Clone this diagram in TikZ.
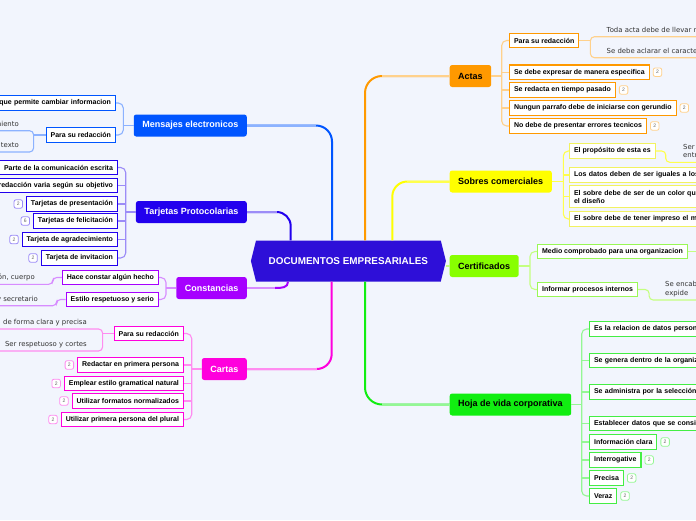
\documentclass[tikz,border=0pt]{standalone}
\usepackage{fontspec}
\setmainfont{Liberation Sans}
\newfontfamily\notefont{DejaVu Sans}
\usetikzlibrary{calc,positioning,shapes.symbols}

\definecolor{bgcol}{HTML}{F2F5FD}
\definecolor{doccol}{HTML}{2E0FD8}
\definecolor{mencol}{HTML}{0055FF}
\definecolor{tarcol}{HTML}{2200EE}
\definecolor{concol}{HTML}{A600FF}
\definecolor{carcol}{HTML}{FF00DD}
\definecolor{actcol}{HTML}{FF9900}
\definecolor{sobcol}{HTML}{FFFF00}
\definecolor{sobbox}{HTML}{F2F260}
\definecolor{cercol}{HTML}{88FF00}
\definecolor{cerbox}{HTML}{99F855}
\definecolor{hojcol}{HTML}{11EE11}
\definecolor{hojbox}{HTML}{44EE44}

\colorlet{menl}{mencol!45!white}
\colorlet{tarl}{tarcol!45!white}
\colorlet{conl}{concol!45!white}
\colorlet{carl}{carcol!45!white}
\colorlet{actl}{actcol!45!white}
\colorlet{sobl}{sobcol!70!white}
\colorlet{cerl}{cercol!50!white}
\colorlet{hojl}{hojcol!45!white}

\tikzset{
  topic/.style={rounded corners=2.5, minimum height=22, inner xsep=8.5,
    font=\fontsize{9}{10}\selectfont\bfseries},
  sub/.style={draw, line width=1.1, fill=white, minimum height=14.5,
    inner xsep=4.5, inner ysep=1, font=\fontsize{7}{8}\selectfont\bfseries},
  widr/.style={text width=170, align=left},
  widl/.style={text width=170, align=right},
  badge/.style={draw, rounded corners=2, line width=0.8, fill=white,
    minimum size=8.5, inner sep=0, font=\fontsize{5}{5}\selectfont, text=black!60},
  note/.style={font=\notefont\fontsize{6.9}{8.4}\selectfont, text=black!80,
    inner xsep=0, inner ysep=3, text depth=1.5pt},
  link/.style={line width=1.1},
  trunk/.style={line width=2},
}

\begin{document}
\begin{tikzpicture}[x=1pt,y=-1pt]
  % Page
  \useasboundingbox (0,0) rectangle (696,520);
  \fill[bgcol] (0,0) rectangle (696,520);
  \clip (0,0) rectangle (696,520);
  \coordinate (ledge) at (-10,0);
  \coordinate (redge) at (710,0);

  % Central Topic
  \node[signal, signal to=west and east, signal pointer angle=152, fill=doccol,
    text=white, minimum width=195, minimum height=41, inner sep=0,
    font=\fontsize{9.9}{11}\selectfont\bfseries] (doc) at (348.4,261) {DOCUMENTOS EMPRESARIALES};

  % Main Topics
  \node[topic, fill=actcol, anchor=west] (actas) at (449.5,76) {Actas};
  \node[topic, fill=sobcol, anchor=west] (sobres) at (449.5,181.5) {Sobres comerciales};
  \node[topic, fill=cercol, anchor=west] (certif) at (449.5,266) {Certificados};
  \node[topic, fill=hojcol, anchor=west] (hoja) at (449.5,404.5) {Hoja de vida corporativa};
  \node[topic, fill=mencol, text=white, anchor=east] (mensajes) at (247,125.5) {Mensajes electronicos};
  \node[topic, fill=tarcol, text=white, anchor=east] (tarjetas) at (247,212) {Tarjetas Protocolarias};
  \node[topic, fill=concol, text=white, anchor=east] (constan) at (247,288) {Constancias};
  \node[topic, fill=carcol, text=white, anchor=east] (cartas) at (247,369) {Cartas};

  % Trunks
  \coordinate (tmen) at ($(doc.north)+(-16.4,0)$);
  \coordinate (ttar) at ($(doc.north)+(-57.7,0)$);
  \coordinate (tact) at ($(doc.north)+(16.6,0)$);
  \coordinate (tsob) at ($(doc.north)+(43.9,0)$);
  \coordinate (tcar) at ($(doc.south)+(-16.7,0)$);
  \coordinate (thoj) at ($(doc.south)+(16.6,0)$);
  \coordinate (tcon) at ($(doc.south)+(-60.4,0)$);
  \coordinate (concor) at ($(constan.east)+(28,0)$);
  \draw[trunk, mencol, rounded corners=16] (tmen) |- (mensajes.east);
  \draw[trunk, menl] ($(tmen |- mensajes.east)+(-16,0)$) -- (mensajes.east);
  \draw[trunk, tarcol, rounded corners=14] (ttar) |- (tarjetas.east);
  \draw[trunk, tarl] ($(ttar |- tarjetas.east)+(-14,0)$) -- (tarjetas.east);
  \draw[trunk, actcol, rounded corners=17] (tact) |- (actas.west);
  \draw[trunk, actl] ($(tact |- actas.west)+(17,0)$) -- (actas.west);
  \draw[trunk, sobcol, rounded corners=15] (tsob) |- (sobres.west);
  \draw[trunk, sobl] ($(tsob |- sobres.west)+(15,0)$) -- (sobres.west);
  \draw[trunk, carcol, rounded corners=15] (tcar) |- (cartas.east);
  \draw[trunk, carl] ($(tcar |- cartas.east)+(-15,0)$) -- (cartas.east);
  \draw[trunk, hojcol, rounded corners=17] (thoj) |- (hoja.west);
  \draw[trunk, hojl] ($(thoj |- hoja.west)+(17,0)$) -- (hoja.west);
  \draw[trunk, concol] (tcon) .. controls +(0,6) and +(7,0) .. (concor);
  \draw[trunk, conl] (concor) -- (constan.east);
  \draw[trunk, cerl] (doc.east |- certif.west) -- (certif.west);

  % Actas
  \node[sub, draw=actcol, anchor=west] (ac1) at (509,40.5) {Para su redacción};
  \node[sub, draw=actcol, anchor=west] (ac2) at (509,72.2) {Se debe expresar de manera especifica};
  \node[sub, draw=actcol, anchor=west] (ac3) at (509,90) {Se redacta en tiempo pasado};
  \node[sub, draw=actcol, anchor=west] (ac4) at (509,108) {Nungun parrafo debe de iniciarse con gerundio};
  \node[sub, draw=actcol, anchor=west] (ac5) at (509,126) {No debe de presentar errores tecnicos};
  \node[badge, draw=actl, right=3pt of ac2] (ac2b) {2};
  \node[badge, draw=actl, right=3pt of ac3] (ac3b) {2};
  \node[badge, draw=actl, right=3pt of ac4] (ac4b) {2};
  \node[badge, draw=actl, right=3pt of ac5] (ac5b) {2};
  \coordinate (acsp) at ($(ac1.west)+(-7.3,0)$);
  \draw[link, actl, rounded corners=5] (ac1.west) -- (ac1.west -| acsp) -- (ac5.west -| acsp) -- (ac5.west);
  \foreach \c in {ac2,ac3,ac4} \draw[link, actl] (\c.west -| acsp) -- (\c.west);
  \draw[link, actl] (actas.east) -- (actas.east -| acsp);
  \node[note, anchor=south west] (acn1) at (606.5,36.7) {Toda acta debe de llevar r};
  \node[note, anchor=south west] (acn2) at (606.5,57.7) {Se debe aclarar el caracte};
  \coordinate (acb) at ($(ac1.east)+(11,0)$);
  \draw[link, actl] (ac1.east) -- (acb);
  \draw[link, actl, rounded corners=4] (acn1.south -| redge) -- (acn1.south -| acb) -- (acn2.south -| acb) -- (acn2.south -| redge);

  % Sobres comerciales
  \node[sub, draw=sobbox, anchor=west] (so1) at (569,151) {El propósito de esta es};
  \node[sub, draw=sobbox, widr, anchor=west] (so2) at (569,175) {Los datos deben de ser iguales a los};
  \node[sub, draw=sobbox, widr, anchor=west, minimum height=21.5] (so3) at (569,196.5) {El sobre debe de ser de un color que\\el diseño};
  \node[sub, draw=sobbox, widr, anchor=west] (so4) at (569,219) {El sobre debe de tener impreso el me};
  \coordinate (sosp) at ($(so1.west)+(-5.7,0)$);
  \draw[link, sobl, rounded corners=5] (so1.west) -- (so1.west -| sosp) -- (so4.west -| sosp) -- (so4.west);
  \foreach \c in {so2,so3} \draw[link, sobl] (\c.west -| sosp) -- (\c.west);
  \draw[link, sobl] (sobres.east) -- (sobres.east -| sosp);
  \node[note, anchor=south west, align=left] (son1) at (683,162.3) {Ser\\entr};
  \draw[link, sobl, rounded corners=4] (so1.east) -- ($(so1.east)+(10,0)$) |- (son1.south -| redge);

  % Certificados
  \node[sub, draw=cerbox, anchor=west] (ce1) at (537,251.5) {Medio comprobado para una organizacion};
  \node[sub, draw=cerbox, anchor=west] (ce2) at (537,289.5) {Informar procesos internos};
  \coordinate (cesp) at ($(ce1.west)+(-7,0)$);
  \draw[link, cerl, rounded corners=5] (ce1.west) -- (ce1.west -| cesp) -- (ce2.west -| cesp) -- (ce2.west);
  \draw[link, cerl] (certif.east) -- (certif.east -| cesp);
  \draw[link, cerl] (ce1.east) -- (ce1.east -| redge);
  \node[note, anchor=south west, align=left] (cen1) at (665,300) {Se encab\\expide};
  \draw[link, cerl, rounded corners=4] (ce2.east) -- ($(ce2.east)+(11,0)$) |- (cen1.south -| redge);

  % Hoja de vida corporativa
  \node[sub, draw=hojbox, widr, anchor=west] (ho1) at (589,329) {Es la relacion de datos persona};
  \node[sub, draw=hojbox, widr, anchor=west] (ho2) at (589,360.5) {Se genera dentro de la organiz};
  \node[sub, draw=hojbox, widr, anchor=west] (ho3) at (589,392) {Se administra por la selección};
  \node[sub, draw=hojbox, widr, anchor=west] (ho4) at (589,423.5) {Establecer datos que se consi};
  \node[sub, draw=hojbox, anchor=west] (ho5) at (589,442) {Información clara};
  \node[sub, draw=hojbox, anchor=west] (ho6) at (589,460) {Interrogative};
  \node[sub, draw=hojbox, anchor=west] (ho7) at (589,478) {Precisa};
  \node[sub, draw=hojbox, anchor=west] (ho8) at (589,496) {Veraz};
  \foreach \c in {ho5,ho6,ho7,ho8} \node[badge, draw=hojl, right=3pt of \c] (\c b) {2};
  \coordinate (hosp) at ($(ho1.west)+(-7.3,0)$);
  \draw[link, hojl, rounded corners=5] (ho1.west) -- (ho1.west -| hosp) -- (ho8.west -| hosp) -- (ho8.west);
  \foreach \c in {ho2,ho3,ho4,ho5,ho6,ho7} \draw[link, hojl] (\c.west -| hosp) -- (\c.west);
  \draw[link, hojl] (hoja.east) -- (hoja.east -| hosp);

  % Mensajes electronicos
  \node[sub, draw=mencol, widl, anchor=east] (me1) at (116,103) {que permite cambiar informacion};
  \node[sub, draw=mencol, anchor=east] (me2) at (116,135) {Para su redacción};
  \coordinate (mesp) at ($(me1.east)+(7.3,0)$);
  \draw[link, menl, rounded corners=5] (me1.east) -- (me1.east -| mesp) -- (me2.east -| mesp) -- (me2.east);
  \draw[link, menl] (mensajes.west) -- (mensajes.west -| mesp);
  \node[note, anchor=south east, align=right] (men1) at (19,130.7) {miento};
  \node[note, anchor=south east, align=right] (men2) at (19,152) {texto};
  \coordinate (meb) at ($(me2.west)+(-12,0)$);
  \draw[link, menl] (me2.west) -- (meb);
  \draw[link, menl, rounded corners=4] (men1.south -| ledge) -- (men1.south -| meb) -- (men2.south -| meb) -- (men2.south -| ledge);

  % Tarjetas Protocolarias
  \node[sub, draw=tarcol, anchor=east] (ta1) at (118,167.5) {Parte de la comunicación escrita};
  \node[sub, draw=tarcol, widl, anchor=east] (ta2) at (118,185.5) {redacción varia según su objetivo};
  \node[sub, draw=tarcol, anchor=east] (ta3) at (118,204) {Tarjetas de presentación};
  \node[sub, draw=tarcol, anchor=east] (ta4) at (118,221) {Tarjetas de felicitación};
  \node[sub, draw=tarcol, anchor=east] (ta5) at (118,239.5) {Tarjeta de agradecimiento};
  \node[sub, draw=tarcol, anchor=east] (ta6) at (118,258) {Tarjeta de invitacion};
  \node[badge, draw=tarl, left=3pt of ta3] (ta3b) {2};
  \node[badge, draw=tarl, left=3pt of ta4] (ta4b) {6};
  \node[badge, draw=tarl, left=3pt of ta5] (ta5b) {2};
  \node[badge, draw=tarl, left=3pt of ta6] (ta6b) {2};
  \coordinate (tasp) at ($(ta1.east)+(7.7,0)$);
  \draw[link, tarl, rounded corners=5] (ta1.east) -- (ta1.east -| tasp) -- (ta6.east -| tasp) -- (ta6.east);
  \foreach \c in {ta2,ta3,ta4,ta5} \draw[link, tarl] (\c.east -| tasp) -- (\c.east);
  \draw[link, tarl] (tarjetas.west) -- (tarjetas.west -| tasp);

  % Constancias
  \node[sub, draw=concol, anchor=east] (co1) at (159,277.5) {Hace constar algún hecho};
  \node[sub, draw=concol, anchor=east] (co2) at (159,299.5) {Estilo respetuoso y serio};
  \coordinate (cosp) at ($(co1.east)+(7,0)$);
  \draw[link, conl, rounded corners=5] (co1.east) -- (co1.east -| cosp) -- (co2.east -| cosp) -- (co2.east);
  \draw[link, conl] (constan.west) -- (constan.west -| cosp);
  \node[note, anchor=south east, align=right] (con1) at (35,284.3) {ón, cuerpo};
  \node[note, anchor=south east, align=right] (con2) at (38,305.7) {y secretario};
  \draw[link, conl, rounded corners=4] (co1.west) -- ($(co1.west)+(-9,0)$) |- (con1.south -| ledge);
  \draw[link, conl, rounded corners=4] (co2.west) -- ($(co2.west)+(-9,0)$) |- (con2.south -| ledge);

  % Cartas
  \node[sub, draw=carcol, anchor=east] (ca1) at (184,333.5) {Para su redacción};
  \node[sub, draw=carcol, anchor=east] (ca2) at (184,365) {Redactar en primera persona};
  \node[sub, draw=carcol, anchor=east] (ca3) at (184,383.5) {Emplear estilo gramatical natural};
  \node[sub, draw=carcol, anchor=east] (ca4) at (184,401) {Utilizar formatos normalizados};
  \node[sub, draw=carcol, anchor=east] (ca5) at (184,419.5) {Utilizar primera persona del plural};
  \foreach \c in {ca2,ca3,ca4,ca5} \node[badge, draw=carl, left=3pt of \c] (\c b) {2};
  \coordinate (casp) at ($(ca1.east)+(7.7,0)$);
  \draw[link, carl, rounded corners=5] (ca1.east) -- (ca1.east -| casp) -- (ca5.east -| casp) -- (ca5.east);
  \foreach \c in {ca2,ca3,ca4} \draw[link, carl] (\c.east -| casp) -- (\c.east);
  \draw[link, carl] (cartas.west) -- (cartas.west -| casp);
  \node[note, anchor=south east, align=right] (can1) at (87,329) {de forma clara y precisa};
  \node[note, anchor=south east, align=right] (can2) at (87,351) {Ser respetuoso y cortes};
  \coordinate (cab) at ($(ca1.west)+(-11,0)$);
  \draw[link, carl] (ca1.west) -- (cab);
  \draw[link, carl, rounded corners=4] (can1.south -| ledge) -- (can1.south -| cab) -- (can2.south -| cab) -- (can2.south -| ledge);
\end{tikzpicture}
\end{document}
